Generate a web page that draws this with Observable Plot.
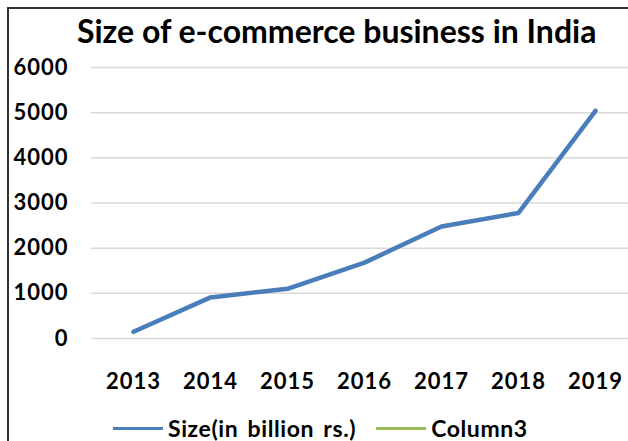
<!DOCTYPE html>
<html>
<head>
<meta charset="utf-8">
<script src="https://cdn.jsdelivr.net/npm/d3@7"></script>
<script src="https://cdn.jsdelivr.net/npm/@observablehq/plot@0.6"></script>
<style>
  html, body { margin: 0; padding: 0; background: #fff; }
  body { width: 628px; height: 441px; overflow: hidden; position: relative; font-family: Lato, "Open Sans", sans-serif; }
  #frame { position: absolute; left: 7px; top: 7px; width: 700px; height: 500px; border-left: 2px solid #333; border-top: 2px solid #333; }
  #title { position: absolute; left: 77px; top: 11px; font-weight: 700; font-size: 32px; color: #000; white-space: nowrap; }
  #chart { position: absolute; left: 0; top: 50px; width: 700px; }
  #legend { position: absolute; top: 414px; left: 113px; display: flex; align-items: center; font-weight: 700; font-size: 23px; letter-spacing: 0.6px; word-spacing: 3px; color: #000; white-space: nowrap; }
  .sw { display: inline-block; width: 50px; height: 3px; margin-right: 5px; }
</style>
</head>
<body>
<div id="frame"></div>
<div id="title">Size of e-commerce business in India</div>
<div id="chart"></div>
<div id="legend"></div>
<script>
const years = ["2013", "2014", "2015", "2016", "2017", "2018", "2019"];
const sizes = [150, 910, 1100, 1680, 2480, 2780, 5040];
const yTicks = [0, 1000, 2000, 3000, 4000, 5000, 6000];
const seriesNames = ["Size(in billion rs.)", "Column3"];
const seriesColors = ["#4a7ebb", "#9bbb59"];

const data = years.map((y, i) => ({year: y, size: sizes[i]}));

const plot = Plot.plot({
  width: 636,
  height: 340,
  marginLeft: 91,
  marginRight: 0,
  marginTop: 17,
  marginBottom: 52,
  style: {fontFamily: "Lato, 'Open Sans', sans-serif", background: "transparent", overflow: "visible", letterSpacing: "1px", maxWidth: "none"},
  x: {type: "point", domain: years, padding: 0.5},
  y: {domain: [0, 6000]},
  marks: [
    Plot.gridY(yTicks, {stroke: "#d9d9d9", strokeOpacity: 1, strokeWidth: 1.5}),
    Plot.axisY(yTicks, {tickSize: 0, tickPadding: 23, fontSize: 22, fontWeight: 700, fill: "#000", label: null, tickFormat: d => String(d)}),
    Plot.axisX(years, {tickSize: 0, tickPadding: 35, fontSize: 22, fontWeight: 700, fill: "#000", label: null}),
    Plot.line(data, {x: "year", y: "size", stroke: seriesColors[0], strokeWidth: 4.5, strokeLinejoin: "round", strokeLinecap: "round"})
  ]
});
document.getElementById("chart").appendChild(plot);

const legend = document.getElementById("legend");
seriesNames.forEach((name, i) => {
  const item = document.createElement("span");
  item.style.display = "inline-flex";
  item.style.alignItems = "center";
  item.style.marginRight = i === 0 ? "20px" : "0";
  const sw = document.createElement("span");
  sw.className = "sw";
  sw.style.background = seriesColors[i];
  item.appendChild(sw);
  item.appendChild(document.createTextNode(name));
  legend.appendChild(item);
});
</script>
</body>
</html>
